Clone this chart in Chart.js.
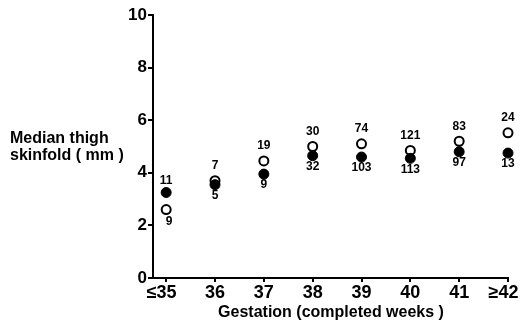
<!DOCTYPE html>
<html><head><meta charset="utf-8">
<script src="https://cdn.jsdelivr.net/npm/chart.js@4/dist/chart.umd.min.js"></script>
<style>html,body{margin:0;padding:0;background:#fff}#wrap{width:520px;height:322px}</style>
</head><body><div id="wrap"><canvas id="c" width="520" height="322"></canvas></div>
<script>
const categories = ["≤35","36","37","38","39","40","41","≥42"];
const openMedian = [2.6,3.7,4.45,5.0,5.1,4.85,5.2,5.52];
const filledMedian = [3.25,3.55,3.95,4.65,4.6,4.55,4.8,4.75];
const openCounts = [9,7,19,30,74,121,83,24];
const filledCounts = [11,5,9,32,103,113,97,13];
const yTicks = [0,2,4,6,8,10];
const yTitle = ["Median thigh","skinfold ( mm )"];
const xTitle = "Gestation (completed weeks )";

const FONT = '"Liberation Sans", Arial, sans-serif';

const labelPlugin = {
  id: 'labels',
  afterDraw(chart) {
    const ctx = chart.ctx;
    const xs = chart.scales.x, ys = chart.scales.y;
    ctx.save();
    ctx.fillStyle = '#000';
    ctx.textAlign = 'center';
    ctx.textBaseline = 'middle';
    ctx.font = 'bold 12px ' + FONT;
    categories.forEach((c, i) => {
      const x = xs.getPixelForValue(i);
      const yo = ys.getPixelForValue(openMedian[i]);
      const yf = ys.getPixelForValue(filledMedian[i]);
      const openUpper = openMedian[i] >= filledMedian[i];
      ctx.fillText(String(openCounts[i]), x + (openUpper ? 0 : 3), openUpper ? yo - 15 : yo + 12);
      ctx.fillText(String(filledCounts[i]), x, openUpper ? yf + 11 : yf - 12);
    });
    ctx.textAlign = 'left';
    ctx.textBaseline = 'alphabetic';
    ctx.font = 'bold 16px ' + FONT;
    ctx.fillText(yTitle[0], 10, 143);
    ctx.fillText(yTitle[1], 10, 160);
    ctx.textAlign = 'center';
    ctx.font = 'bold 16px ' + FONT;
    ctx.fillText(xTitle, 331, 317);
    ctx.restore();
  }
};

new Chart(document.getElementById('c'), {
  type: 'scatter',
  data: {
    datasets: [
      {
        label: 'filled',
        data: filledMedian.map((v, i) => ({x: i, y: v})),
        pointRadius: 5, pointHoverRadius: 5, clip: false,
        backgroundColor: '#000', borderColor: '#000', borderWidth: 1
      },
      {
        label: 'open',
        data: openMedian.map((v, i) => ({x: i, y: v})),
        pointRadius: 4.5, pointHoverRadius: 4.5, clip: false,
        backgroundColor: '#fff', borderColor: '#000', borderWidth: 2
      }
    ]
  },
  options: {
    responsive: false,
    animation: false,
    events: [],
    layout: {padding: {left: 108, top: 15, right: 12, bottom: 0}},
    plugins: {legend: {display: false}, tooltip: {enabled: false}},
    scales: {
      x: {
        type: 'linear', min: -0.27, max: 7,
        afterBuildTicks: s => { s.ticks = categories.map((_, i) => ({value: i})); },
        afterFit: s => { s.height = 44; s.paddingLeft = 0; s.paddingRight = 0; },
        ticks: {autoSkip: false, maxRotation: 0, color: '#000', padding: 0,
          font: {family: FONT, size: 18, weight: 'bold'},
          callback: v => { const t = categories[v]; return /^[≤≥]/.test(t) ? t + '\u2002' : t; }},
        grid: {drawOnChartArea: false, drawTicks: true, tickLength: 4, color: '#000', lineWidth: 2},
        border: {color: '#000', width: 2}
      },
      y: {
        min: 0, max: 10,
        afterBuildTicks: s => { s.ticks = yTicks.map(v => ({value: v})); },
        afterFit: s => { s.width = 45; },
        ticks: {color: '#000', padding: 1, font: {family: FONT, size: 17, weight: 'bold'}},
        grid: {drawOnChartArea: false, drawTicks: true, tickLength: 5, color: '#000', lineWidth: 2},
        border: {color: '#000', width: 2}
      }
    }
  },
  plugins: [labelPlugin]
});
</script></body></html>
